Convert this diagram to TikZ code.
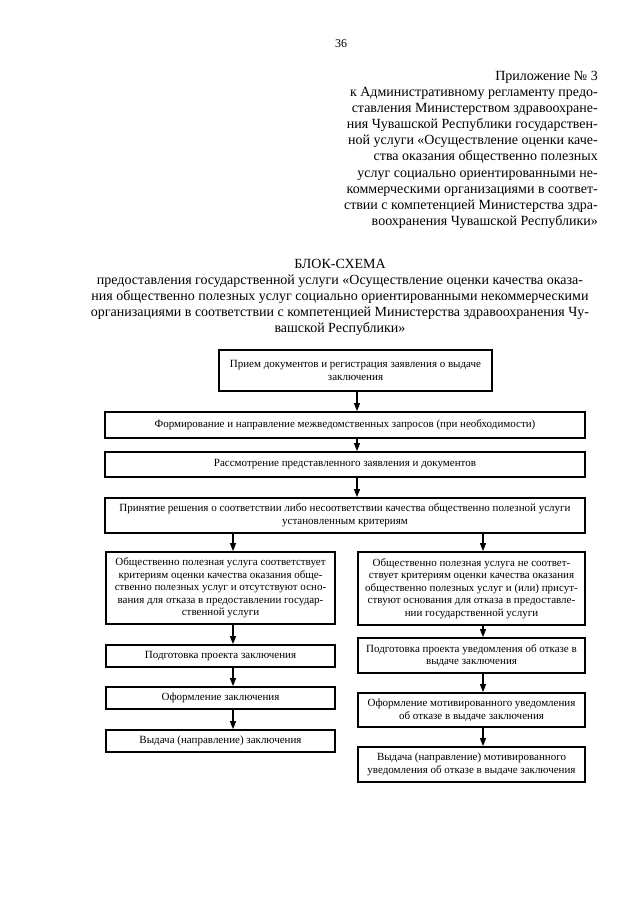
\documentclass[tikz,border=0pt]{standalone}
\usepackage{fontspec}
\setmainfont{Liberation Serif}
\usetikzlibrary{arrows.meta}
\begin{document}
\begin{tikzpicture}[x=1pt,y=-1pt,
  box/.style={draw, line width=1.8pt, rectangle, inner sep=0pt, align=center,
    font=\fontsize{11}{12.6}\selectfont},
  wide/.style={minimum width=480pt},
  lcol/.style={minimum width=229pt},
  rcol/.style={minimum width=227pt},
  arr/.style={line width=1.3pt, -{Triangle[length=8pt,width=6pt]}},
  hdr/.style={inner sep=0pt, font=\fontsize{14}{16.1}\selectfont},
]
\useasboundingbox[fill=white] (0,0) rectangle (640,904);

% page number
\node[inner sep=0pt, font=\fontsize{12}{14}\selectfont] (pg) at (341,44) {36};

% header
\node[hdr, align=right, anchor=north east] (hd) at (598,71) {%
Приложение № 3\\
к Административному регламенту предо-\\
ставления Министерством здравоохране-\\
ния Чувашской Республики государствен-\\
ной услуги «Осуществление оценки каче-\\
ства оказания общественно полезных\\
услуг социально ориентированными не-\\
коммерческими организациями в соответ-\\
ствии с компетенцией Министерства здра-\\
воохранения Чувашской Республики»};

% title
\node[hdr, align=center, anchor=north] (tt) at (340,259) {%
БЛОК-СХЕМА\\
предоставления государственной услуги «Осуществление оценки качества оказа-\\
ния общественно полезных услуг социально ориентированными некоммерческими\\
организациями в соответствии с компетенцией Министерства здравоохранения Чу-\\
вашской Республики»};

% boxes
\node[box, minimum width=273pt, minimum height=41pt] (b1) at (355.5,370.5)
  {Прием документов и регистрация заявления о выдаче\\заключения};
\node[box, wide, minimum height=26pt] (b2) at (345,425)
  {Формирование и направление межведомственных запросов (при необходимости)};
\node[box, wide, minimum height=25pt] (b3) at (345,464.5)
  {Рассмотрение представленного заявления и документов};
\node[box, wide, minimum height=35pt] (b4) at (345,515.5)
  {Принятие решения о соответствии либо несоответствии качества общественно полезной услуги\\установленным критериям};

\node[box, lcol, minimum height=72pt] (l5) at (220.5,588)
  {Общественно полезная услуга соответствует\\критериям оценки качества оказания обще-\\ственно полезных услуг и отсутствуют осно-\\вания для отказа в предоставлении государ-\\ственной услуги};
\node[box, lcol, minimum height=22pt] (l6) at (220.5,656)
  {Подготовка проекта заключения};
\node[box, lcol, minimum height=22pt] (l7) at (220.5,698)
  {Оформление заключения};
\node[box, lcol, minimum height=22pt] (l8) at (220.5,741)
  {Выдача (направление) заключения};

\node[box, rcol, minimum height=73pt] (r5) at (471.5,588.5)
  {Общественно полезная услуга не соответ-\\ствует критериям оценки качества оказания\\общественно полезных услуг и (или) присут-\\ствуют основания для отказа в предоставле-\\нии государственной услуги};
\node[box, rcol, minimum height=35pt] (r6) at (471.5,655.5)
  {Подготовка проекта уведомления об отказе в\\выдаче заключения};
\node[box, rcol, minimum height=34pt] (r7) at (471.5,710)
  {Оформление мотивированного уведомления\\об отказе в выдаче заключения};
\node[box, rcol, minimum height=35pt] (r8) at (471.5,764.5)
  {Выдача (направление) мотивированного\\уведомления об отказе в выдаче заключения};

% arrow columns
\coordinate (mx) at (357,0);
\coordinate (lx) at (233,0);
\coordinate (rx) at (483,0);

\draw[arr] (b1.south -| mx) -- (b2.north -| mx);
\draw[arr] (b2.south -| mx) -- (b3.north -| mx);
\draw[arr] (b3.south -| mx) -- (b4.north -| mx);
\draw[arr] (b4.south -| lx) -- (l5.north -| lx);
\draw[arr] (b4.south -| rx) -- (r5.north -| rx);
\draw[arr] (l5.south -| lx) -- (l6.north -| lx);
\draw[arr] (l6.south -| lx) -- (l7.north -| lx);
\draw[arr] (l7.south -| lx) -- (l8.north -| lx);
\draw[arr] (r5.south -| rx) -- (r6.north -| rx);
\draw[arr] (r6.south -| rx) -- (r7.north -| rx);
\draw[arr] (r7.south -| rx) -- (r8.north -| rx);
\end{tikzpicture}
\end{document}
